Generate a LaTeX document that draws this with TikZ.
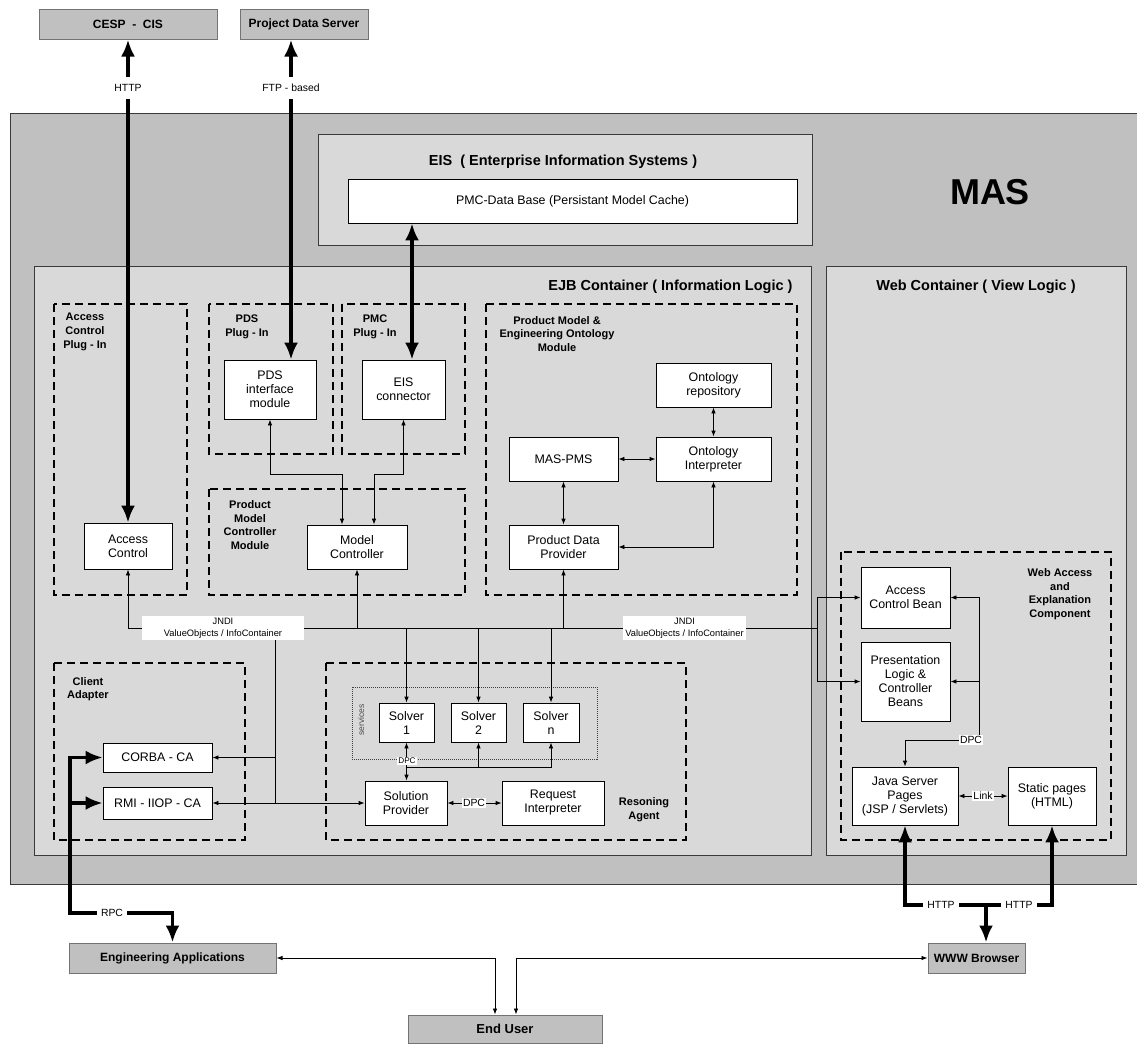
\documentclass[tikz,border=0pt]{standalone}
\usepackage{fontspec}
\setmainfont{Liberation Sans}
\usetikzlibrary{arrows.meta,calc}
\definecolor{masgray}{HTML}{C0C0C0}
\definecolor{contgray}{HTML}{D9D9D9}
\definecolor{edgegray}{HTML}{3A3A3A}
\newcommand\ftbox{\fontsize{12.4}{14}\selectfont}
\newcommand\ftmod{\fontsize{11}{13.7}\selectfont\bfseries}
\newcommand\fttitle{\fontsize{14.5}{17}\selectfont\bfseries}
\newcommand\ftsmall{\fontsize{10.4}{12}\selectfont}
\newcommand\ftjndi{\fontsize{9.3}{11.7}\selectfont}
\newcommand\ftgray{\fontsize{12}{14}\selectfont\bfseries}
\tikzset{
  Big/.tip={Latex[length=17pt,width=14pt]},
  Sm/.tip={Latex[length=6pt,width=4.5pt]},
  wbox/.style={draw=black, fill=white, line width=0.8pt, align=center, inner sep=0pt, font=\ftbox},
  gbox/.style={draw=black!55, fill=masgray, line width=1pt, inner sep=0pt, font=\ftgray},
  modbox/.style={draw=black, dash pattern=on 8pt off 5pt, line width=1.3pt},
  modlabel/.style={align=center, font=\ftmod, inner sep=0pt},
  cont/.style={draw=edgegray, fill=contgray, line width=1pt},
  thk/.style={draw=black, line width=3.5pt, line join=miter},
  tl/.style={draw=black, line width=0.8pt},
  lbl/.style={fill=white, inner sep=1.5pt, font=\ftsmall},
  wlbl/.style={fill=white, inner xsep=4pt, inner ysep=3pt, font=\ftsmall},
}
\begin{document}
\begin{tikzpicture}[x=1pt,y=-1pt]
\useasboundingbox (0,0) rectangle (1137,1044);
% ---------- external boxes
\node[gbox, minimum width=178, minimum height=30] (cesp) at (128,24) {CESP \ - \ CIS};
\node[gbox, minimum width=128, minimum height=30] (pdsserver) at (304,24) {Project Data Server};
\node[gbox, minimum width=207, minimum height=30] (engapp) at (172.5,958) {Engineering Applications};
\node[gbox, minimum width=97, minimum height=30] (www) at (976.5,958) {WWW Browser};
\node[gbox, minimum width=194, minimum height=28, font=\fontsize{13}{15}\selectfont\bfseries] (enduser) at (505,1029) {End User};
% ---------- MAS
\path[fill=masgray, draw=edgegray, line width=1pt] (10,113) rectangle (1145,884);
\node[font=\fontsize{36}{40}\selectfont\bfseries] (mastitle) at (990,192) {MAS};
% ---------- EIS
\path[cont] (318,134) rectangle (812,245);
\node[font=\fttitle] (eistitle) at (563,162) {EIS \ ( Enterprise Information Systems )};
\node[wbox, minimum width=449, minimum height=44] (pmcdb) at (572.5,201) {PMC-Data Base (Persistant Model Cache)};
% ---------- containers
\path[cont] (34,266) rectangle (811,855);
\node[font=\fttitle, anchor=east] (ejbtitle) at (796,287) {EJB Container ( Information Logic )};
\path[cont] (826,266) rectangle (1126,855);
\node[font=\fttitle] (webtitle) at (976,287) {Web Container ( View Logic )};
% ---------- dashed modules
\draw[modbox] (54,304) rectangle (187,595);
\draw[modbox] (209,304) rectangle (333,454);
\draw[modbox] (342,304) rectangle (465,454);
\draw[modbox] (209,489) rectangle (465,595);
\draw[modbox] (486,304) rectangle (797,595);
\draw[modbox] (54,663) rectangle (245,840);
\draw[modbox] (326,663) rectangle (686,840);
\draw[modbox] (841,552) rectangle (1111,840);
\draw[draw=black!75, line width=0.8pt, dash pattern=on 1pt off 1pt] (352,687) rectangle (597,759);
\node[modlabel] (acmlbl) at (85,332) {Access\\Control\\Plug - In};
\node[modlabel] (pdslbl) at (247,327) {PDS\\Plug - In};
\node[modlabel] (pmclbl) at (375,327) {PMC\\Plug - In};
\node[modlabel] (pmcmlbl) at (250,525) {Product\\Model\\Controller\\Module};
\node[modlabel] (pmeolbl) at (557,334) {Product Model \&\\Engineering Ontology\\Module};
\node[modlabel] (calbl) at (88,689) {Client\\Adapter};
\node[modlabel] (ralbl) at (644,810) {Resoning\\Agent};
\node[modlabel] (walbl) at (1060,594) {Web Access\\and\\Explanation\\Component};
\node[rotate=90, font=\fontsize{8.5}{10}\selectfont, text=black!70, inner sep=0pt] (svclbl) at (361,720) {services};
% ---------- white boxes
\node[wbox, minimum width=92, minimum height=59] (pdsif) at (270,389.5) {PDS\\interface\\module};
\node[wbox, minimum width=83, minimum height=59] (eisconn) at (403.5,389.5) {EIS\\connector};
\node[wbox, minimum width=88, minimum height=46] (accctl) at (128,546) {Access\\Control};
\node[wbox, minimum width=100, minimum height=44] (modelctl) at (357,547) {Model\\Controller};
\node[wbox, minimum width=115, minimum height=44] (ontrepo) at (713.5,385) {Ontology\\repository};
\node[wbox, minimum width=115, minimum height=44] (ontint) at (713.5,459) {Ontology\\Interpreter};
\node[wbox, minimum width=109, minimum height=44] (maspms) at (563.5,459) {MAS-PMS};
\node[wbox, minimum width=109, minimum height=44] (pdp) at (563.5,547) {Product Data\\Provider};
\node[wbox, minimum width=109, minimum height=29] (corba) at (157.5,757.5) {CORBA - CA};
\node[wbox, minimum width=109, minimum height=32] (rmi) at (157.5,803) {RMI - IIOP - CA};
\node[wbox, minimum width=55, minimum height=39] (solver1) at (406.5,722.5) {Solver\\1};
\node[wbox, minimum width=55, minimum height=39] (solver2) at (478.5,722.5) {Solver\\2};
\node[wbox, minimum width=56, minimum height=39] (solvern) at (551,722.5) {Solver\\n};
\node[wbox, minimum width=82, minimum height=44] (solprov) at (406,803) {Solution\\Provider};
\node[wbox, minimum width=102, minimum height=44] (reqint) at (553,803) {Request\\Interpreter};
\node[wbox, minimum width=89, minimum height=61] (acbean) at (905.5,597.5) {Access\\Control Bean};
\node[wbox, minimum width=89, minimum height=79] (plbean) at (905.5,681.5) {Presentation\\Logic \&\\Controller\\Beans};
\node[wbox, minimum width=106, minimum height=58] (jsp) at (905,796) {Java Server\\Pages\\(JSP / Servlets)};
\node[wbox, minimum width=88, minimum height=58] (static) at (1052,796) {Static pages\\(HTML)};
% ---------- helper coordinates
\coordinate (ftpx) at (291,0);
\coordinate (eisx) at (412,0);
\coordinate (rpcx) at (70,0);
\coordinate (rpcy) at (0,913);
\coordinate (httpy) at (0,905);
\coordinate (httpx) at (986,0);
\coordinate (bus) at (0,628);
\coordinate (webx) at (817,0);
\coordinate (jx) at (275,0);
\coordinate (dpcx) at (979,0);
\coordinate (dpcy) at (0,740);
\coordinate (sy) at (0,767);
\coordinate (eua) at (495,0);
\coordinate (eub) at (516,0);
% ---------- thick connectors
\draw[thk, Big-Big] (cesp.south) -- (accctl.north);
\node[fill=white, inner xsep=3pt, inner ysep=7pt, font=\ftsmall] (httplbl) at (128,88) {HTTP};
\draw[thk, Big-Big] (pdsserver.south -| ftpx) -- (pdsif.north -| ftpx);
\node[fill=white, inner xsep=3pt, inner ysep=7pt, font=\ftsmall] (ftplbl) at (291,88) {FTP - based};
\draw[thk, Big-Big] (pmcdb.south -| eisx) -- (eisconn.north -| eisx);
\draw[thk, Big-Big] (corba.west) -- (rpcx |- corba.west) -- (rpcx |- rpcy) -- (engapp.north |- rpcy) -- (engapp.north);
\draw[thk, -Big] (rpcx |- rmi.west) -- (rmi.west);
\node[wlbl] (rpclbl) at (112,913) {RPC};
\draw[thk, Big-Big] (jsp.south) -- (jsp.south |- httpy) -- (static.south |- httpy) -- (static.south);
\draw[thk, -Big] (httpx |- httpy) -- (httpx |- www.north);
\node[wlbl] (http2) at (941,905) {HTTP};
\node[wlbl] (http3) at (1019,905) {HTTP};
% ---------- thin connectors
\draw[tl, Sm-Sm] (pdsif.south) -- ++(0,55) -| ([xshift=-15pt]modelctl.north);
\draw[tl, Sm-Sm] (eisconn.south) -- ++(0,55) -| ([xshift=17pt]modelctl.north);
\draw[tl, Sm-Sm] (ontrepo.south) -- (ontint.north);
\draw[tl, Sm-Sm] (maspms.east) -- (ontint.west);
\draw[tl, Sm-Sm] (maspms.south) -- (pdp.north);
\draw[tl, Sm-Sm] (ontint.south) |- (pdp.east);
\draw[tl] (accctl.south |- bus) -- (webx |- bus);
\draw[tl, -Sm] (accctl.south |- bus) -- (accctl.south);
\draw[tl, -Sm] (modelctl.south |- bus) -- (modelctl.south);
\draw[tl, -Sm] (pdp.south |- bus) -- (pdp.south);
\draw[tl, -Sm] (solver1.north |- bus) -- (solver1.north);
\draw[tl, -Sm] (solver2.north |- bus) -- (solver2.north);
\draw[tl, -Sm] (solvern.north |- bus) -- (solvern.north);
\draw[tl] (jx |- bus) -- (jx |- rmi.east);
\draw[tl, -Sm] (jx |- corba.east) -- (corba.east);
\draw[tl, Sm-Sm] (rmi.east) -- (solprov.west);
\draw[tl] (webx |- acbean.west) -- (webx |- plbean.west);
\draw[tl, -Sm] (webx |- acbean.west) -- (acbean.west);
\draw[tl, -Sm] (webx |- plbean.west) -- (plbean.west);
\node[lbl, font=\ftjndi, align=center, minimum width=162, inner sep=2pt] (jndi1) at (223,628) {JNDI\\ValueObjects / InfoContainer};
\node[lbl, font=\ftjndi, align=center, inner xsep=2pt, inner ysep=2pt] (jndi2) at (684.5,628) {JNDI\\ValueObjects / InfoContainer};
\draw[tl, Sm-Sm] (acbean.east) -- (dpcx |- acbean.east) -- (dpcx |- dpcy) -| (jsp.north);
\draw[tl, -Sm] (dpcx |- plbean.east) -- (plbean.east);
\node[lbl] (dpc1) at (971,740) {DPC};
\draw[tl, Sm-Sm] (jsp.east) -- (static.west);
\node[lbl] (linklbl) at (983,796) {Link};
\draw[tl, Sm-Sm] (solver1.south) -- (solver1.south |- solprov.north);
\draw[tl, -Sm] (solver1.south |- sy) -- (solvern.south |- sy) -- (solvern.south);
\draw[tl, -Sm] (solver2.south |- sy) -- (solver2.south);
\node[lbl, font=\fontsize{8.2}{9}\selectfont, inner sep=1pt] (dpc2) at (407,761) {DPC};
\draw[tl, Sm-Sm] (solprov.east) -- (reqint.west);
\node[lbl] (dpc3) at (474,803) {DPC};
\draw[tl, Sm-Sm] (engapp.east) -- (eua |- engapp.east) -- (eua |- enduser.north);
\draw[tl, Sm-Sm] (www.west) -- (eub |- www.west) -- (eub |- enduser.north);
\end{tikzpicture}
\end{document}
